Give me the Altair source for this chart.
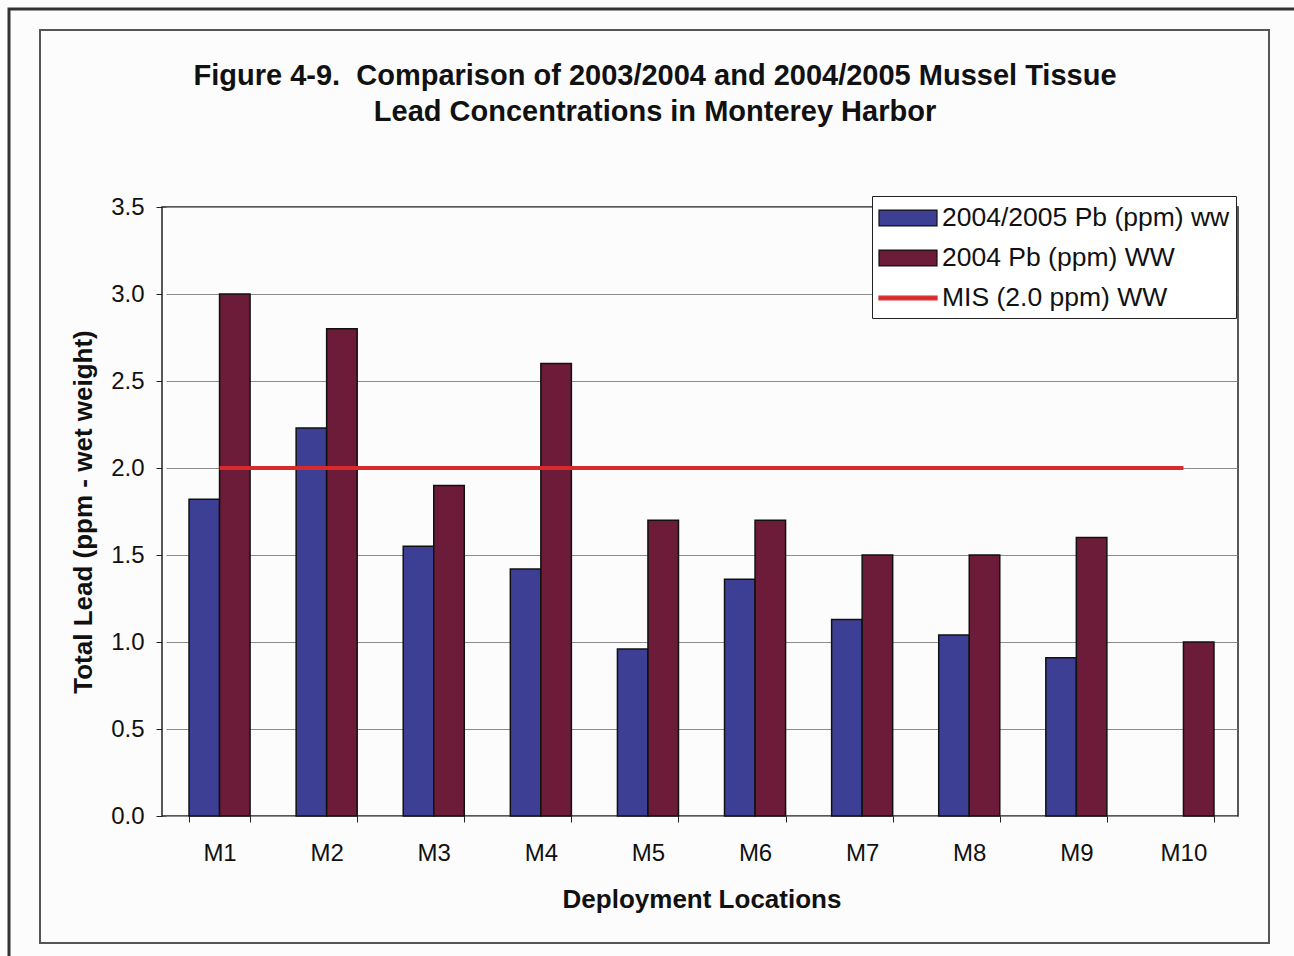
import altair as alt
import pandas as pd

# ---------------- data ----------------
locations = ["M1", "M2", "M3", "M4", "M5", "M6", "M7", "M8", "M9", "M10"]
pb_2004_2005 = [1.82, 2.23, 1.55, 1.42, 0.96, 1.36, 1.13, 1.04, 0.91, None]
pb_2004 = [3.0, 2.8, 1.9, 2.6, 1.7, 1.7, 1.5, 1.5, 1.6, 1.0]
mis_level = 2.0
series_names = ["2004/2005 Pb (ppm) ww", "2004 Pb (ppm) WW", "MIS (2.0 ppm) WW"]
y_ticks = [0.0, 0.5, 1.0, 1.5, 2.0, 2.5, 3.0, 3.5]
title_lines = ["Figure 4-9.\u00a0 Comparison of 2003/2004 and 2004/2005 Mussel Tissue",
               "Lead Concentrations in Monterey Harbor"]
x_title = "Deployment Locations"
y_title = "Total Lead (ppm - wet weight)"

# ---------------- styles ----------------
BLUE = "#3d3f95"
MAROON = "#6c1b38"
RED = "#d82a2a"
FONT = "Liberation Sans"
RECT_PATH = "M-1,-0.53H2.867V0.53H-1Z"
LINE_PATH = "M-1,-0.12H2.867V0.12H-1Z"

rows = []
for loc, a, b in zip(locations, pb_2004_2005, pb_2004):
    if a is not None:
        rows.append({"location": loc, "series": series_names[0], "value": a})
    if b is not None:
        rows.append({"location": loc, "series": series_names[1], "value": b})
bars_df = pd.DataFrame(rows)
line_df = pd.DataFrame({"location": locations, "series": series_names[2],
                        "value": [mis_level] * len(locations)})
legend_df = pd.DataFrame({"series": series_names})
title_df = pd.DataFrame({"t": ["\n".join(title_lines)]})
one_df = pd.DataFrame({"k": [0]})

fill_scale = alt.Scale(domain=series_names, range=[BLUE, MAROON, RED])
stroke_scale = alt.Scale(domain=series_names, range=["#111111", "#111111", RED])
shape_scale = alt.Scale(domain=series_names, range=[RECT_PATH, RECT_PATH, LINE_PATH])

legend = alt.Legend(title=None, orient="none", legendX=710, legendY=-11,
                    fillColor="white", strokeColor="#222222", padding=6,
                    labelFontSize=26.5, labelFont=FONT, labelColor="#111111",
                    symbolSize=900, symbolStrokeWidth=1.2, rowPadding=10,
                    labelOffset=32, labelLimit=500, symbolOpacity=1)

x_enc = alt.X("location:N", sort=locations,
              scale=alt.Scale(domain=locations, paddingInner=0.43, paddingOuter=0.215,
                              range=[4, 1075]),
              axis=alt.Axis(title=x_title, labelAngle=0, labelFontSize=24, labelFont=FONT,
                            labelColor="#111111", tickBand="extent", tickSize=6,
                            tickColor="#222222", domain=False, grid=False,
                            labelPadding=19, titleFontSize=26, titleFont=FONT,
                            titleFontWeight="bold", titleColor="#111111", titlePadding=21))
y_enc = alt.Y("value:Q",
              scale=alt.Scale(domain=[0, 3.5], nice=False),
              axis=alt.Axis(title=y_title, values=y_ticks, format=".1f", labelFontSize=24,
                            labelFont=FONT, labelColor="#111111", tickSize=6,
                            tickColor="#222222", domain=False, grid=True,
                            gridColor="#8c8c8c", gridWidth=1, labelPadding=12,
                            titleFontSize=26, titleFont=FONT, titleFontWeight="bold",
                            titleColor="#111111", titlePadding=14))

legend_layer = alt.Chart(legend_df).transform_filter("false").mark_point(filled=True).encode(
    fill=alt.Fill("series:N", scale=fill_scale, legend=legend),
    stroke=alt.Stroke("series:N", scale=stroke_scale, legend=legend),
    shape=alt.Shape("series:N", scale=shape_scale, legend=legend),
)

bars = alt.Chart(bars_df).mark_bar(stroke="#111111", strokeWidth=1.5).encode(
    x=x_enc,
    xOffset=alt.XOffset("series:N", scale=alt.Scale(domain=series_names[:2])),
    y=y_enc,
    fill=alt.Fill("series:N", scale=fill_scale, legend=legend),
)

mis_line = alt.Chart(line_df).mark_line(strokeWidth=4).encode(
    x=x_enc,
    y=y_enc,
    stroke=alt.Stroke("series:N", scale=stroke_scale, legend=legend),
)

outer_frame = alt.Chart(one_df).mark_rect(fillOpacity=0, stroke="#333333", strokeWidth=3).encode(
    x=alt.value(-153), x2=alt.value(1145), y=alt.value(-198), y2=alt.value(760))
inner_frame = alt.Chart(one_df).mark_rect(fillOpacity=0, stroke="#555555", strokeWidth=2).encode(
    x=alt.value(-122), x2=alt.value(1107), y=alt.value(-177), y2=alt.value(736))

title = alt.Chart(title_df).mark_text(font=FONT, fontSize=29, fontWeight="bold",
                                      color="#111111", align="center", baseline="alphabetic",
                                      lineBreak="\n", lineHeight=36).encode(
    x=alt.value(493), y=alt.value(-122), text="t:N")

chart = alt.layer(outer_frame, inner_frame, title, legend_layer, bars, mis_line).properties(
    width=1076, height=609,
    autosize=alt.AutoSizeParams(type="none"),
    padding={"left": 162, "top": 207, "right": 56, "bottom": 140},
    background="#fcfcfc",
).configure_view(stroke="#222222", strokeWidth=1.5)

chart.save("out.html", embed_options={"renderer": "svg", "actions": False})
